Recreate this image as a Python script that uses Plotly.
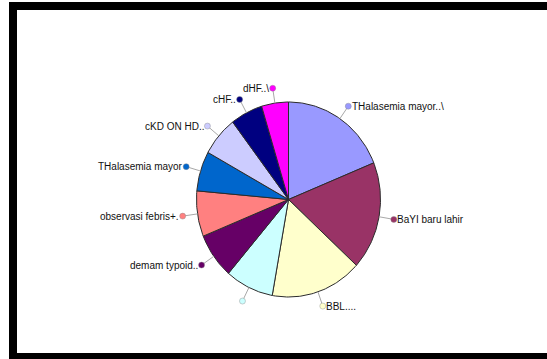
import numpy as np
import plotly.graph_objects as go

# Diagnosis categories (clockwise from 12 o'clock) and their counts
labels = ["THalasemia mayor..\\", "BaYI baru lahir", "BBL....", "", "demam typoid..",
          "observasi febris+.", "THalasemia mayor", "cKD ON HD..", "cHF..", "dHF..\\"]
values = [20, 19, 17, 9, 8, 8, 7, 7, 6, 5]
colors = ["#9999FF", "#993366", "#FFFFCC", "#CCFFFF", "#660066",
          "#FF8080", "#0066CC", "#CCCCFF", "#000080", "#FF00FF"]

W, H = 547, 359
CX, CY = 288.5, 199.5      # pie centre (pixel space)
RX, RY = 92.0, 97.5        # slightly taller than wide
LEAD = 15.0                # leader line length

fig = go.Figure()

total = float(sum(values))
start = 0.0
for lab, val, col in zip(labels, values, colors):
    sweep = 360.0 * val / total
    th = np.radians(np.linspace(start, start + sweep, max(int(sweep) + 2, 3)))
    xs = np.concatenate([[CX], CX + RX * np.sin(th), [CX]])
    ys = np.concatenate([[CY], CY - RY * np.cos(th), [CY]])
    fig.add_trace(go.Scatter(x=xs, y=ys, mode="lines", fill="toself",
                             fillcolor=col, line=dict(color="#2b2b2b", width=1),
                             hoverinfo="skip", showlegend=False))

    mid = np.radians(start + sweep / 2)
    ex, ey = CX + RX * np.sin(mid), CY - RY * np.cos(mid)
    dx, dy = CX + (RX + LEAD) * np.sin(mid), CY - (RY + LEAD) * np.cos(mid)
    fig.add_trace(go.Scatter(x=[ex, dx], y=[ey, dy], mode="lines",
                             line=dict(color="#a8a8a8", width=1),
                             hoverinfo="skip", showlegend=False))
    fig.add_trace(go.Scatter(x=[dx], y=[dy], mode="markers",
                             marker=dict(size=6, color=col,
                                         line=dict(color="rgba(140,140,140,0.7)", width=0.6)),
                             hoverinfo="skip", showlegend=False))
    right = np.sin(mid) >= 0
    if lab:
        fig.add_annotation(x=dx + (1.5 if right else -1.5), y=dy, text=lab,
                           xanchor="left" if right else "right", yanchor="middle",
                           showarrow=False,
                           font=dict(family="Liberation Sans, Arial, sans-serif",
                                     size=10, color="#111111"))
    start += sweep

# thick black frame
fig.add_shape(type="rect", x0=13, y0=6, x1=W + 20, y1=357,
              line=dict(color="black", width=8), layer="above")

fig.update_layout(
    width=W, height=H, margin=dict(l=0, r=0, t=0, b=0),
    paper_bgcolor="white", plot_bgcolor="white",
    xaxis=dict(range=[0, W], visible=False, fixedrange=True),
    yaxis=dict(range=[H, 0], visible=False, fixedrange=True),
    hovermode=False, showlegend=False,
)

fig.write_html("out.html")
